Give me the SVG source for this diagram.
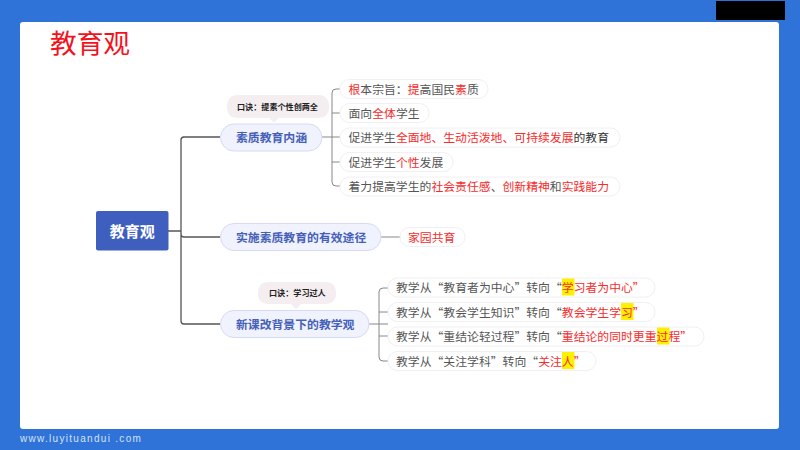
<svg xmlns="http://www.w3.org/2000/svg" width="800" height="450" viewBox="0 0 800 450">
<style>
text{font-family:"Noto Sans CJK SC","Noto Sans",sans-serif}
.c{fill:none;stroke:#555;stroke-width:1.3}
.c2{fill:none;stroke:#888;stroke-width:1}
.m{fill:#f0f2fd;stroke:#d5daf5;stroke-width:1}
.mt{font-size:11.85px;font-weight:700;fill:#4560b8}
.i{fill:#fff;stroke:#f0f0f2;stroke-width:1}
.t{font-size:11.85px;fill:#555}
.r{fill:#f62b2b}
.d{fill:#333}
.n{fill:#f5eef0}
.nt{font-size:8.1px;font-weight:700;fill:#222}
.y{fill:#ffef00}
</style>
<rect width="800" height="450" fill="#2f73d8"/>
<rect x="716" y="1" width="69" height="19" fill="#000"/>
<rect x="20" y="22" width="759" height="407" rx="3" fill="#fff"/>
<text x="50" y="53" font-size="26.700" fill="#f5111c">教育观</text>
<text x="20" y="441.500" font-size="10" letter-spacing="1.300" fill="#d3e2f7" style="font-family:'Liberation Sans',sans-serif">www.luyituandui .com</text>
<g id="connectors">
<path class="c" d="M168 231H181M220 137H184Q181 137 181 140V321Q181 324 184 324H220M181 234Q181 237 184 237H220"/>
<path class="c2" d="M322 137H340M340 89H336Q332 89 332 93V182Q332 186 336 186H340M332 113H340M332 162H340"/>
<path class="c2" d="M381 237H400"/>
<path class="c2" d="M369 324H388M388 288H383Q379 288 379 292V357Q379 361 383 361H388M379 312H388M379 336H388"/>
</g>
<g id="root"><rect x="96" y="211" width="72.500" height="39.500" rx="2" fill="#3f5fbf"/><text x="132.300" y="236.500" font-size="15" font-weight="700" fill="#fff" text-anchor="middle">教育观</text></g>
<g id="branch1"><rect class="m" x="220.500" y="124" width="101.500" height="27" rx="13.500"/><text class="mt" x="236" y="141.500">素质教育内涵</text></g>
<g id="branch2"><rect class="m" x="220.500" y="223.500" width="160.500" height="27" rx="13.500"/><text class="mt" x="236" y="241.500">实施素质教育的有效途径</text></g>
<g id="branch3"><rect class="m" x="220.500" y="310.500" width="148.500" height="27" rx="13.500"/><text class="mt" x="236" y="328.500">新课改背景下的教学观</text></g>
<g id="note1"><path class="n" d="M238 95H318Q329 95 329 106.500Q329 118 318 118H279L274 122.500L269 118H238Q227 118 227 106.500Q227 95 238 95Z"/><text class="nt" x="237" y="109.500">口诀：提素个性创两全</text></g>
<g id="note2"><path class="n" d="M269 282H325Q336 282 336 293Q336 304 325 304H301L296 309L291 304H269Q258 304 258 293Q258 282 269 282Z"/><text class="nt" x="269" y="296">口诀：学习过人</text></g>
<g id="a1"><rect class="i" x="340" y="79.500" width="148" height="19" rx="9.500"/><text class="t" x="348.500" y="93.500"><tspan class="r">根</tspan>本宗旨：<tspan class="r">提</tspan>高国民<tspan class="r">素</tspan>质</text></g>
<g id="a2"><rect class="i" x="340" y="103.500" width="89" height="19" rx="9.500"/><text class="t" x="348.500" y="118"><tspan>面向</tspan><tspan class="r">全体</tspan>学生</text></g>
<g id="a3"><rect class="i" x="340" y="128" width="280" height="19" rx="9.500"/><text class="t" x="348.500" y="142"><tspan>促进学生</tspan><tspan class="r">全面地、生动活泼地、可持续发展</tspan><tspan class="d">的教育</tspan></text></g>
<g id="a4"><rect class="i" x="340" y="152.500" width="113" height="19" rx="9.500"/><text class="t" x="348.500" y="166.500"><tspan>促进学生</tspan><tspan class="r">个性</tspan>发展</text></g>
<g id="a5"><rect class="i" x="340" y="177" width="280" height="19" rx="9.500"/><text class="t" x="348.500" y="191"><tspan>着力提高学生的</tspan><tspan class="r">社会责任感</tspan>、<tspan class="r">创新精神</tspan>和<tspan class="r">实践能力</tspan></text></g>
<g id="b1"><rect class="i" x="400" y="227.500" width="65" height="19" rx="9.500"/><text class="t" x="408" y="241.500"><tspan class="r">家园共育</tspan></text></g>
<g id="c1"><rect class="i" x="388" y="278" width="267" height="19" rx="9.500"/><rect class="y" x="562" y="278.500" width="12.500" height="17"/><text class="t" x="396" y="292">教学从“教育者为中心”转向“<tspan class="r">学习者为中心”</tspan></text></g>
<g id="c2"><rect class="i" x="388" y="302.500" width="267" height="19" rx="9.500"/><rect class="y" x="621" y="303" width="12.500" height="17"/><text class="t" x="396" y="316.500">教学从“教会学生知识”转向“<tspan class="r">教会学生学习”</tspan></text></g>
<g id="c3"><rect class="i" x="388" y="327" width="316" height="19" rx="9.500"/><rect class="y" x="657" y="327.500" width="12.500" height="17"/><text class="t" x="396" y="341">教学从“重结论轻过程”转向“<tspan class="r">重结论的同时更重过程”</tspan></text></g>
<g id="c4"><rect class="i" x="388" y="351.500" width="208" height="19" rx="9.500"/><rect class="y" x="562" y="352" width="12.500" height="17"/><text class="t" x="396" y="365.500">教学从“关注学科”转向“<tspan class="r">关注人”</tspan></text></g>
</svg>
